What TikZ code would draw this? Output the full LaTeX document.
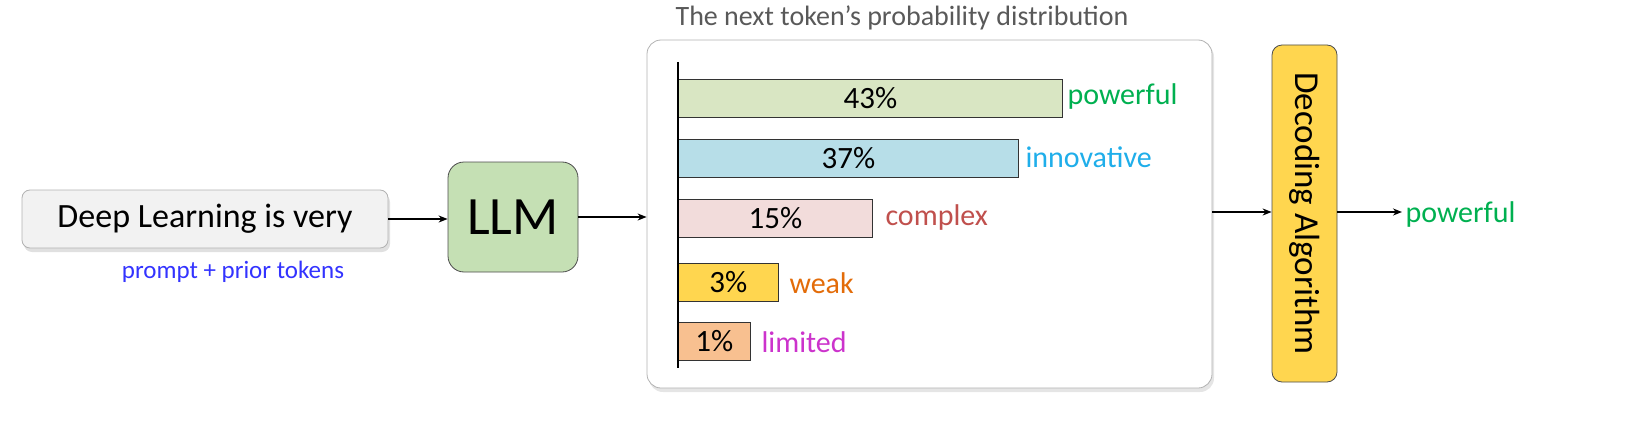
\documentclass[tikz,border=0pt]{standalone}
\usepackage{fontspec}
\setmainfont{Carlito}
\usetikzlibrary{arrows.meta}
\definecolor{pgreen}{HTML}{00B050}
\definecolor{pblue}{HTML}{1FAEEA}
\definecolor{pred}{HTML}{C0504D}
\definecolor{porange}{HTML}{E36C09}
\definecolor{pmag}{HTML}{CC33CC}
\definecolor{promptc}{HTML}{3333FF}
\tikzset{
  conn/.style={-{Stealth[length=9pt,width=7pt]},line width=1.6pt},
  bar/.style={draw=black!80,line width=0.8pt,anchor=west,inner sep=0pt,minimum height=38pt,font=\fontsize{31}{36}\selectfont},
  lbl/.style={anchor=west,font=\fontsize{30}{34}\selectfont},
}
\begin{document}
\begin{tikzpicture}[x=1pt,y=-1pt]
\useasboundingbox (0,0) rectangle (1640,428);
\fill[black!12,rounded corners=8pt] (24,194) rectangle (390,252);
\node[draw=black!30,fill=black!5,rounded corners=8pt,line width=0.8pt,minimum width=366pt,minimum height=58pt,font=\fontsize{34}{40}\selectfont] (inp) at (205,219) {Deep Learning is very};
\node[text=promptc,font=\fontsize{25}{30}\selectfont] (pr) at (233,272) {prompt + prior tokens};
\node[draw=black!70,fill={rgb,255:red,197;green,224;blue,180},rounded corners=16pt,line width=0.8pt,minimum width=130pt,minimum height=110pt,font=\fontsize{54}{60}\selectfont] (llm) at (513,217) {LLM};
\fill[black!10,rounded corners=14pt] (649,43) rectangle (1214,392);
\node[draw=black!30,fill=white,rounded corners=14pt,line width=0.8pt,minimum width=565pt,minimum height=348pt] (panel) at (929.5,214) {};
\node[text=black!65,font=\fontsize{28}{32}\selectfont] (title) at (902,18) {The next token’s probability distribution};
\coordinate (at) at (678,62); \coordinate (ab) at (678,368);
\node[bar,fill={rgb,255:red,217;green,230;blue,195},minimum width=384pt] (b1) at (678,98.5) {43\%};
\node[bar,fill={rgb,255:red,183;green,222;blue,232},minimum width=340pt] (b2) at (678,158) {37\%};
\node[bar,fill={rgb,255:red,242;green,220;blue,219},minimum width=194pt] (b3) at (678,218.5) {15\%};
\node[bar,fill={rgb,255:red,255;green,214;blue,79},minimum width=100pt] (b4) at (678,282) {3\%};
\node[bar,fill={rgb,255:red,248;green,192;blue,144},minimum width=72pt] (b5) at (678,341) {1\%};
\draw[line width=2.5pt] (at) -- (ab);
\node[lbl,text=pgreen] (l1) at (1064,97) {powerful};
\node[lbl,text=pblue] (l2) at (1022,157) {innovative};
\node[lbl,text=pred] (l3) at (882,217) {complex};
\node[lbl,text=porange] (l4) at (786,283) {weak};
\node[lbl,text=pmag] (l5) at (758,342) {limited};
\node[draw=black!70,fill={rgb,255:red,255;green,214;blue,79},rounded corners=10pt,line width=0.8pt,minimum width=65pt,minimum height=337pt] (dec) at (1304.5,213.5) {};
\node[rotate=-90,font=\fontsize{35}{40}\selectfont] (dect) at (1304.5,213.5) {Decoding Algorithm};
\node[lbl,text=pgreen] (out) at (1402,214) {powerful};
\draw[conn] (inp.east) -- (llm.west|-inp.east);
\draw[conn] (llm.east) -- (panel.west|-llm.east);
\draw[conn] (panel.east|-0,212) -- (dec.west|-0,212);
\draw[conn] (dec.east|-0,212) -- (out.west|-0,212);
\end{tikzpicture}
\end{document}
